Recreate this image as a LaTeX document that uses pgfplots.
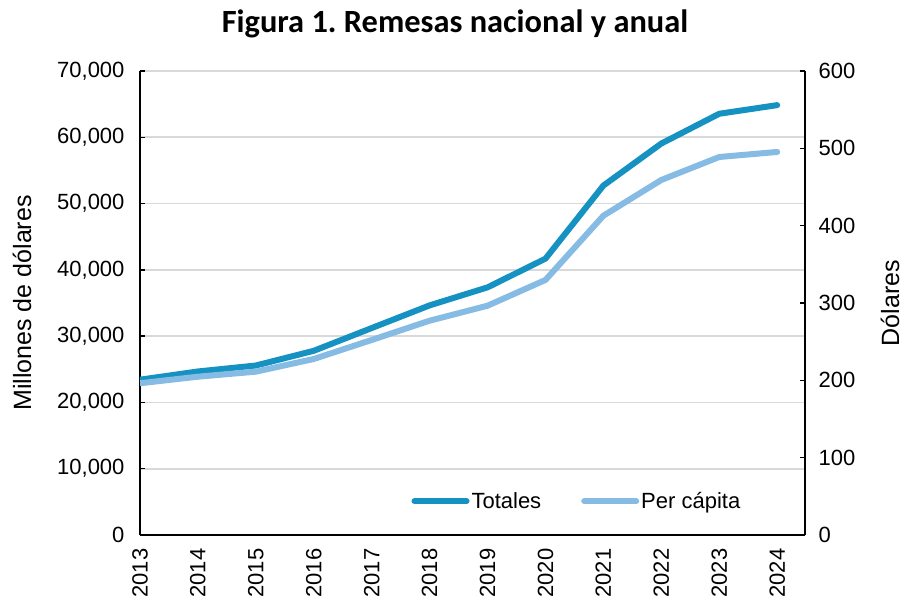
\documentclass[border=0pt]{standalone}
\usepackage{pgfplots}
\pgfplotsset{compat=1.18}
\usepackage{fontspec}
\setmainfont{Liberation Sans}
\newfontfamily\titlefont{Carlito}
\definecolor{cTot}{RGB}{21,146,194}
\definecolor{cPer}{RGB}{134,188,228}
\definecolor{cGrid}{RGB}{217,217,217}
\begin{document}
\begin{tikzpicture}
\useasboundingbox (0pt,0pt) rectangle (903pt,602pt);
\node[font=\titlefont\bfseries\fontsize{32.4}{38}\selectfont] at (455pt,578pt) {Figura 1.\ Remesas nacional y anual};
\pgfplotsset{
  every axis/.append style={
    /pgf/number format/assume math mode=true,
    scale only axis, width=665pt, height=464pt,
    at={(140pt,67pt)}, anchor=south west,
    xmin=0, xmax=11.48,
    tick label style={font=\fontsize{22}{26}\selectfont},
    label style={font=\fontsize{25}{30}\selectfont},
    axis line style={line width=1.6pt, black},
    tick style={line width=1.4pt, black},
    tick align=inside, major tick length=5pt,
  }
}
\begin{axis}[
  axis y line*=left, axis x line*=bottom,
  axis line style={-},
  ymin=0, ymax=70000, ytick={0,10000,...,70000},
  scaled y ticks=false,
  yticklabel style={/pgf/number format/1000 sep={,}, xshift=-12pt},
  xtick={0,...,11},
  xticklabels={2013,2014,2015,2016,2017,2018,2019,2020,2021,2022,2023,2024},
  xticklabel style={rotate=90, anchor=east, xshift=-10pt},
  x tick style={draw=none},
  ymajorgrids, grid style={cGrid, line width=1.6pt},
  ylabel={Millones de dólares},
  ylabel style={at={(axis description cs:-0.1774,0.5)}, anchor=center},
  legend style={draw=none, fill=none, at={(axis description cs:0.657,0.073)}, anchor=center,
    legend columns=2, font=\fontsize{22}{26}\selectfont,
    /tikz/every even column/.append style={column sep=38pt},
    /tikz/every odd column/.append style={column sep=0pt}},
  legend cell align=left,
  legend image code/.code={\draw[#1, line cap=round] (0pt,0pt) -- (52pt,0pt);},
]
\addplot[cTot, line width=6pt, line cap=round, line join=round] coordinates {
(0,23430) (1,24670) (2,25570) (3,27790) (4,31220) (5,34640)
(6,37360) (7,41690) (8,52720) (9,59060) (10,63550) (11,64850)};
\addlegendentry{Totales}
\addlegendimage{cPer, line width=6pt}
\addlegendentry{Per cápita}
\end{axis}
\begin{axis}[
  axis y line*=right, axis x line=none,
  axis line style={-},
  ymin=0, ymax=600, ytick={0,100,...,600},
  yticklabel style={xshift=10pt},
  ylabel={Dólares},
  ylabel style={at={(axis description cs:1.128,0.5)}, anchor=center, rotate=0},
]
\addplot[cPer, line width=6pt, line cap=round, line join=round] coordinates {
(0,196.2) (1,204.7) (2,211.2) (3,227.6) (4,252.2) (5,277.1)
(6,296.5) (7,329.8) (8,412.9) (9,459.1) (10,488.8) (11,495.3)};
\end{axis}
\end{tikzpicture}
\end{document}
